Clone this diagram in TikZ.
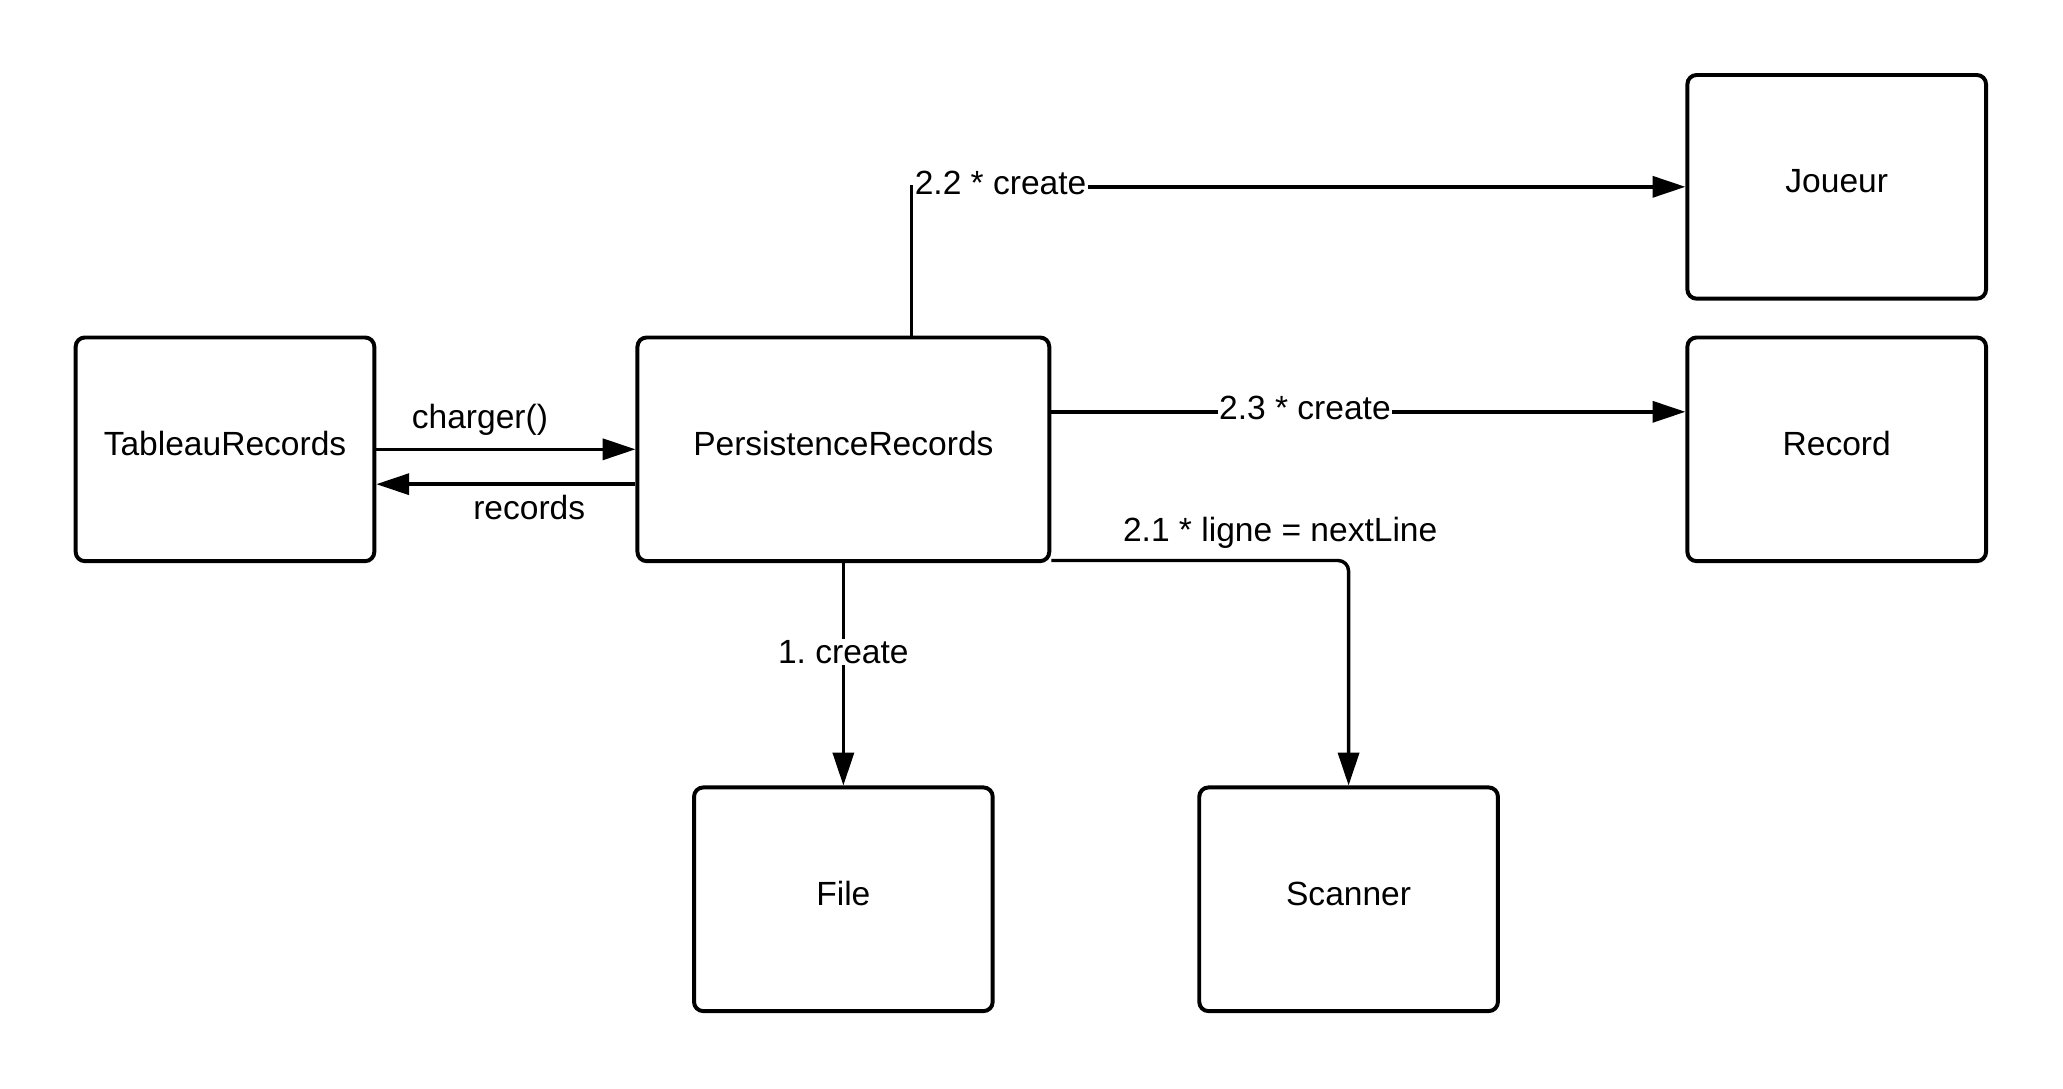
\documentclass[tikz,border=0pt]{standalone}
\usepackage{fontspec}
\setmainfont{Liberation Sans}
\usetikzlibrary{arrows.meta,positioning}

\begin{document}
\frenchspacing
\begin{tikzpicture}[x=1pt,y=-1pt,>={Triangle[length=25pt,width=16pt]},
            line width=2.6pt,font=\fontsize{25.5}{30}\selectfont,
            box/.style={draw,rectangle,rounded corners=7pt,line width=3pt,
                minimum width=227pt,minimum height=170pt,
                text height=18pt,text depth=9pt},
            lbl/.style={fill=white,inner sep=1pt}]
            \useasboundingbox (0,0) rectangle (1568,827);

            \node[box] (T) at (171,341.5)  {TableauRecords};
            \node[box,minimum width=313pt] (P) at (641,341.5) {PersistenceRecords};
            \node[box] (J) at (1396,142)   {Joueur};
            \node[box] (R) at (1396,341.5) {Record};
            \node[box] (F) at (641,683.5)  {File};
            \node[box] (S) at (1025,683.5) {Scanner};

            % From T=TableauRecords
            \draw[->] (T.east) -- node[pos=0.4,above=7pt,inner sep=2pt] {charger()} (P.west);

            % From P=PersistenceRecords
            \draw[->] ([yshift=-26.5pt]P.west) -- node[pos=0.41,below=5pt,inner sep=2pt] {records} ([yshift=-26.5pt]T.east);
            \draw[->] (P.south) -- node[lbl,pos=0.4] {1. create} (F.north);
            \draw[->,rounded corners=8pt] ([yshift=2pt]P.south east) -| node[pos=0.385,above=6pt,inner sep=2pt] {2.1 * ligne = nextLine} (S.north);
            \draw[->] ([xshift=52pt]P.north) |- node[lbl,pos=0.5,anchor=west,yshift=3pt] {2.2 * create} (J.west);
            \draw[->] ([yshift=28.5pt]P.east) -- node[lbl,pos=0.4,yshift=3pt] {2.3 * create} ([yshift=28.5pt]R.west);

        \end{tikzpicture}
\end{document}
